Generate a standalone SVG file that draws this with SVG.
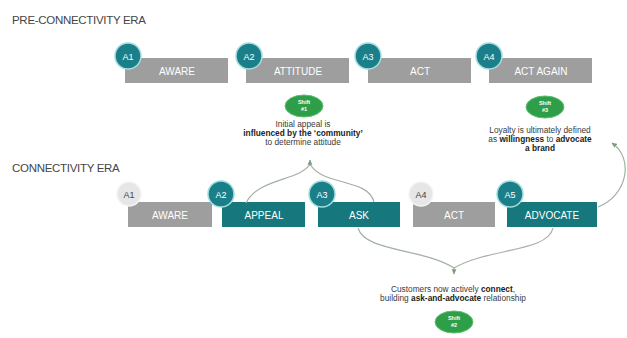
<svg xmlns="http://www.w3.org/2000/svg" width="627" height="338" viewBox="0 0 627 338">
<defs>
<style>
.title{font-family:"Liberation Sans",Arial,sans-serif;font-size:11.5px;fill:#454545;letter-spacing:-0.3px}
.gbox{fill:#9e9e9e}
.tbox{fill:#16787c}
.btxt{font-family:"Liberation Sans",Arial,sans-serif;font-size:10px;fill:#ffffff;text-anchor:middle}
.tc{fill:#1b7f89;stroke:#9fdde0;stroke-width:1.5}
.lc{fill:#e6e6e6;stroke:#f4f4f4;stroke-width:1.5}
.ctxt{font-family:"Liberation Sans",Arial,sans-serif;font-size:9px;fill:#ffffff;text-anchor:middle}
.ctxtd{font-family:"Liberation Sans",Arial,sans-serif;font-size:9px;fill:#444444;text-anchor:middle}
.body{font-family:"Liberation Sans",Arial,sans-serif;font-size:8.3px;fill:#3a3a3a;text-anchor:middle}
.b{font-weight:bold;fill:#222}
.shift{fill:#2f9e48;stroke:#5cbf70;stroke-width:1}
.stxt{font-family:"Liberation Sans",Arial,sans-serif;font-size:5.5px;fill:#ffffff;text-anchor:middle;font-weight:bold}
.con{fill:none;stroke:#a3b0a3;stroke-width:1.2}
</style>
<marker id="ah" viewBox="0 0 10 10" refX="8" refY="5" markerWidth="5" markerHeight="5" orient="auto">
<path d="M0 1 L9 5 L0 9 Z" fill="#7e9a82"/>
</marker>
</defs>
<rect width="627" height="338" fill="#ffffff"/>

<text class="title" x="12" y="24">PRE-CONNECTIVITY ERA</text>
<text class="title" x="12" y="172">CONNECTIVITY ERA</text>

<g id="pre-a1">
<rect class="gbox" x="125" y="58" width="103" height="25"/>
<circle class="tc" cx="128" cy="56" r="13"/>
<text class="ctxt" x="128" y="59.5">A1</text>
<text class="btxt" x="177" y="74.5">AWARE</text>
</g>
<g id="pre-a2">
<rect class="gbox" x="246" y="58" width="103" height="25"/>
<circle class="tc" cx="249" cy="56" r="13"/>
<text class="ctxt" x="249" y="59.5">A2</text>
<text class="btxt" x="298" y="74.5">ATTITUDE</text>
</g>
<g id="pre-a3">
<rect class="gbox" x="368" y="58" width="103" height="25"/>
<circle class="tc" cx="368" cy="56" r="13"/>
<text class="ctxt" x="368" y="59.5">A3</text>
<text class="btxt" x="420" y="74.5">ACT</text>
</g>
<g id="pre-a4">
<rect class="gbox" x="489" y="58" width="103" height="25"/>
<circle class="tc" cx="489" cy="56" r="13"/>
<text class="ctxt" x="489" y="59.5">A4</text>
<text class="btxt" x="541" y="74.5">ACT AGAIN</text>
</g>

<g id="shift1">
<ellipse class="shift" cx="304" cy="106" rx="19" ry="11"/>
<text class="stxt" x="304" y="104">Shift</text>
<text class="stxt" x="304" y="111">#1</text>
</g>
<g id="note1">
<text class="body" x="303" y="127">Initial appeal is</text>
<text class="body b" x="303" y="136">influenced by the ‘community’</text>
<text class="body" x="303" y="145">to determine attitude</text>
</g>

<g id="shift3">
<ellipse class="shift" cx="545" cy="107" rx="19" ry="11"/>
<text class="stxt" x="545" y="105">Shift</text>
<text class="stxt" x="545" y="112">#3</text>
</g>
<g id="note3">
<text class="body" x="540" y="133">Loyalty is ultimately defined</text>
<text class="body" x="540" y="142">as <tspan class="b">willingness</tspan> to <tspan class="b">advocate</tspan></text>
<text class="body b" x="540" y="151">a brand</text>
</g>

<g id="con-a1">
<rect class="gbox" x="128" y="202" width="84" height="25"/>
<circle class="lc" cx="129" cy="194" r="12"/>
<text class="ctxtd" x="129" y="197.5">A1</text>
<text class="btxt" x="170" y="218.5">AWARE</text>
</g>
<g id="con-a2">
<rect class="tbox" x="222" y="202" width="83" height="25"/>
<circle class="tc" cx="221" cy="194" r="13"/>
<text class="ctxt" x="221" y="197.5">A2</text>
<text class="btxt" x="264" y="218.5">APPEAL</text>
</g>
<g id="con-a3">
<rect class="tbox" x="318" y="202" width="82" height="25"/>
<circle class="tc" cx="322" cy="194" r="13"/>
<text class="ctxt" x="322" y="197.5">A3</text>
<text class="btxt" x="359" y="218.5">ASK</text>
</g>
<g id="con-a4">
<rect class="gbox" x="413" y="202" width="82" height="25"/>
<circle class="lc" cx="421" cy="194" r="12"/>
<text class="ctxtd" x="421" y="197.5">A4</text>
<text class="btxt" x="454" y="218.5">ACT</text>
</g>
<g id="con-a5">
<rect class="tbox" x="507" y="202" width="90" height="25"/>
<circle class="tc" cx="510" cy="194" r="13"/>
<text class="ctxt" x="510" y="197.5">A5</text>
<text class="btxt" x="552" y="218.5">ADVOCATE</text>
</g>

<g id="note2">
<text class="body" x="453" y="292">Customers now actively <tspan class="b">connect</tspan>,</text>
<text class="body" x="453" y="301">building <tspan class="b">ask-and-advocate</tspan> relationship</text>
</g>
<g id="shift2">
<ellipse class="shift" cx="454" cy="322" rx="19" ry="11"/>
<text class="stxt" x="454" y="320">Shift</text>
<text class="stxt" x="454" y="327">#2</text>
</g>

<g id="connectors">
<path class="con" d="M246 203 C258 178 300 181 310 164"/>
<path class="con" d="M374 202 C368 178 322 186 310 164"/>
<path class="con" d="M310 166 L310 160" marker-end="url(#ah)"/>
<path class="con" d="M358 228 C365 252 422 248 454 268"/>
<path class="con" d="M553 228 C548 252 488 248 454 268"/>
<path class="con" d="M454 267 L454 274" marker-end="url(#ah)"/>
<path class="con" d="M598 207 C628 195 634 158 612 143" marker-end="url(#ah)"/>
</g>
</svg>
